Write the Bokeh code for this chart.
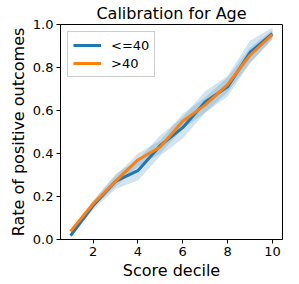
from bokeh.plotting import figure
from bokeh.embed import file_html
from bokeh.resources import INLINE
from bokeh.models import Range1d, FixedTicker, Legend, LegendItem, ColumnDataSource

deciles = [1, 2, 3, 4, 5, 6, 7, 8, 9, 10]
young_rate = [0.018, 0.157, 0.27, 0.32, 0.437, 0.52, 0.64, 0.71, 0.87, 0.957]
young_lo = [0.008, 0.137, 0.235, 0.275, 0.39, 0.47, 0.59, 0.665, 0.82, 0.93]
young_hi = [0.028, 0.177, 0.305, 0.37, 0.485, 0.57, 0.69, 0.76, 0.925, 0.985]
old_rate = [0.038, 0.165, 0.27, 0.37, 0.43, 0.55, 0.625, 0.72, 0.857, 0.953]
old_lo = [0.028, 0.15, 0.245, 0.34, 0.40, 0.515, 0.59, 0.685, 0.822, 0.933]
old_hi = [0.048, 0.18, 0.295, 0.40, 0.46, 0.585, 0.66, 0.755, 0.892, 0.973]
x_ticks = [2, 4, 6, 8, 10]
y_ticks = [0.0, 0.2, 0.4, 0.6, 0.8, 1.0]

FONT = "DejaVu Sans"
BLUE = "#1f77b4"
ORANGE = "#ff7f0e"

p = figure(width=299, height=284, output_backend="svg", toolbar_location=None,
           x_range=Range1d(0.55, 10.45), y_range=Range1d(0, 1.0),
           min_border_left=60, min_border_right=17, min_border_top=24, min_border_bottom=45)
p.background_fill_color = "white"
p.border_fill_color = "white"
p.outline_line_color = "black"
p.outline_line_width = 1
p.xgrid.visible = False
p.ygrid.visible = False

p.title.text = "Calibration for Age"
p.title.text_font = FONT
p.title.text_font_size = "16px"
p.title.text_font_style = "normal"
p.title.text_color = "black"
p.title.align = "center"
p.title.standoff = 3

src_y = ColumnDataSource(dict(x=deciles, lo=young_lo, hi=young_hi, r=young_rate))
src_o = ColumnDataSource(dict(x=deciles, lo=old_lo, hi=old_hi, r=old_rate))

p.varea(x="x", y1="lo", y2="hi", source=src_y, fill_color=BLUE, fill_alpha=0.2)
p.varea(x="x", y1="lo", y2="hi", source=src_o, fill_color=BLUE, fill_alpha=0.2)

l1 = p.line(x="x", y="r", source=src_y, line_color=BLUE, line_width=3)
l2 = p.line(x="x", y="r", source=src_o, line_color=ORANGE, line_width=3)

legend = Legend(items=[LegendItem(label="<=40", renderers=[l1]),
                       LegendItem(label=">40", renderers=[l2])],
                location="top_left")
legend.label_text_font = FONT
legend.label_text_font_size = "13px"
legend.label_text_color = "black"
legend.border_line_color = "#cccccc"
legend.border_line_alpha = 1
legend.background_fill_alpha = 0.8
legend.glyph_width = 28
legend.glyph_height = 16
legend.label_height = 16
legend.spacing = 2
legend.padding = 5
legend.margin = 7
legend.label_standoff = 10
p.add_layout(legend)

for ax in (p.xaxis[0], p.yaxis[0]):
    ax.major_label_text_font = FONT
    ax.major_label_text_font_size = "13px"
    ax.major_label_text_color = "black"
    ax.axis_label_text_font = FONT
    ax.axis_label_text_font_size = "16px"
    ax.axis_label_text_font_style = "normal"
    ax.axis_label_text_color = "black"
    ax.major_tick_in = 0
    ax.major_tick_out = 4
    ax.major_tick_line_color = "black"
    ax.minor_tick_line_color = None
    ax.axis_line_color = "black"
    ax.major_label_standoff = 3
    ax.axis_label_standoff = 2

p.xaxis[0].ticker = FixedTicker(ticks=x_ticks)
p.yaxis[0].ticker = FixedTicker(ticks=y_ticks)
p.yaxis[0].major_label_overrides = {t: f"{t:.1f}" for t in y_ticks}
p.xaxis[0].axis_label = "Score decile"
p.yaxis[0].axis_label = "Rate of positive outcomes"

open("out.html", "w").write(file_html(p, INLINE))
